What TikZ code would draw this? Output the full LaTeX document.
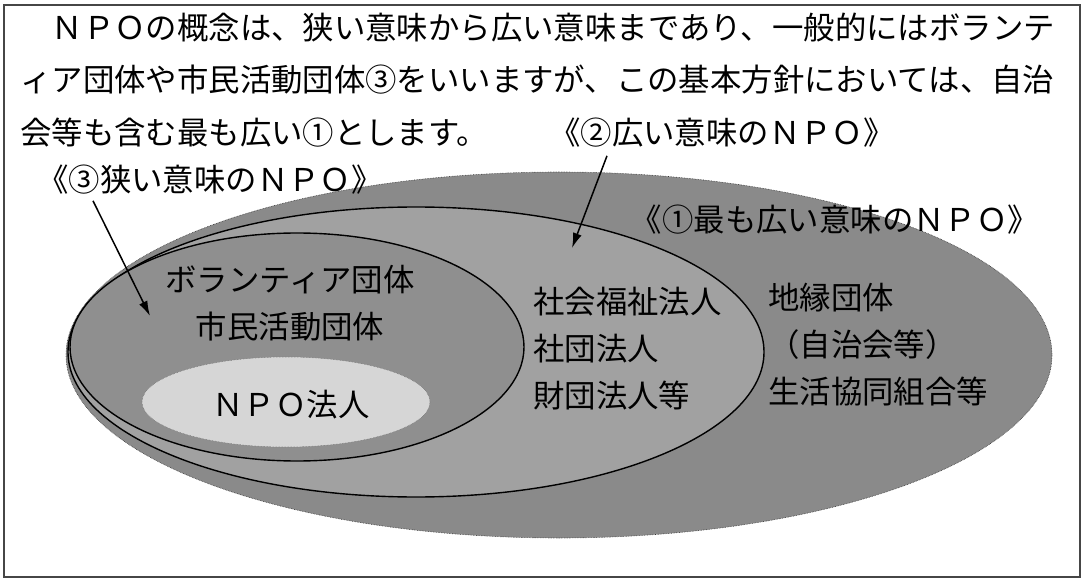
\documentclass[tikz,border=0pt]{standalone}
\usepackage{fontspec}
\setmainfont{Noto Sans CJK JP}
\usetikzlibrary{arrows.meta}

\begin{document}
\begin{tikzpicture}[x=1pt,y=-1pt,
    txt/.style={inner sep=0pt,font=\fontsize{31.4}{47}\selectfont},
    rim/.style={draw=black,line width=1.4pt},
    arr/.style={line width=1.5pt,-{Latex[length=15pt,width=9pt]}}]
  \useasboundingbox (0,0) rectangle (1090,580);
  \draw[line width=2pt,gray!55!black] (4,5) rectangle (1080,577);

  % the three sets of NPO
  \fill[black!46] (559,355) ellipse [x radius=493,y radius=183];
  \draw[black!80,densely dotted,line width=0.6pt] (559,355) ellipse [x radius=493,y radius=183];
  \filldraw[rim,fill=black!37] (416,352) ellipse [x radius=348,y radius=145];
  \filldraw[rim,fill=black!44] (297,347) ellipse [x radius=227,y radius=114];
  \fill[black!16] (286,402) ellipse [x radius=144,y radius=45];
  \draw[black!60,densely dotted,line width=0.5pt] (286,402) ellipse [x radius=144,y radius=45];

  \node[txt,anchor=west] (line1) at (20,28) {　ＮＰＯの概念は、狭い意味から広い意味まであり、一般的にはボランテ};
  \node[txt,anchor=west] (line2) at (20,80) {ィア団体や市民活動団体③をいいますが、この基本方針においては、自治};
  \node[txt,anchor=west] (line3) at (20,133) {会等も含む最も広い①とします。};

  \node[txt] (lblC) at (210,180) {《③狭い意味のＮＰＯ》};
  \node[txt] (lblB) at (722,133) {《②広い意味のＮＰＯ》};
  \node[txt] (lblA) at (835,220) {《①最も広い意味のＮＰＯ》};

  \node[txt,align=center] (vol) at (290,303) {ボランティア団体\\市民活動団体};
  \node[txt] (npo) at (291,405) {ＮＰＯ法人};
  \node[txt,align=left,anchor=west] (corp) at (533,349) {社会福祉法人\\社団法人\\財団法人等};
  \node[txt,align=left,anchor=west] (local) at (768,345) {地縁団体\\（自治会等）\\生活協同組合等};

  \coordinate (tipC) at (150,316);
  \coordinate (tipB) at (572,248);
  \draw[arr] ([xshift=-117pt,yshift=-6pt]lblC.south) -- (tipC);
  \draw[arr] ([xshift=-115pt,yshift=-8pt]lblB.south) -- (tipB);
\end{tikzpicture}
\end{document}
